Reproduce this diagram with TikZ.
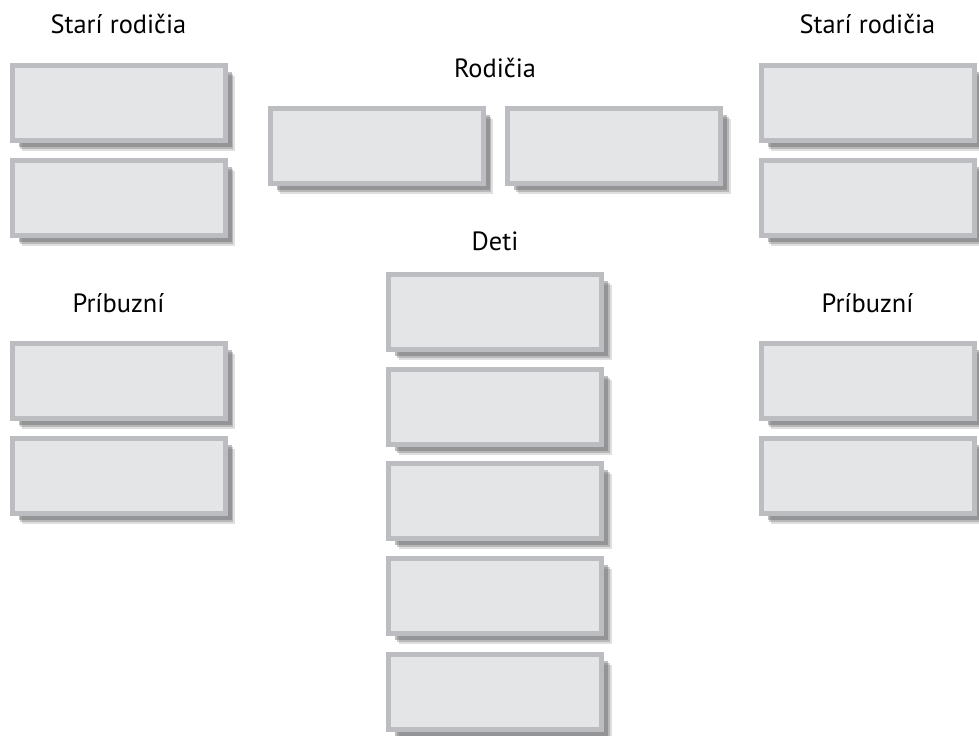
\documentclass[tikz,border=0pt]{standalone}
\usepackage{fontspec}
\setmainfont{PT Sans}
\usetikzlibrary{shadows}

\definecolor{slotline}{HTML}{BCBDC0}
\definecolor{slotfill}{HTML}{E4E5E7}
\definecolor{slotshade}{HTML}{5E5F61}

\tikzset{
  slot/.style={draw=slotline, fill=slotfill, line width=3.75pt,
    minimum width=159.75pt, minimum height=56.25pt, inner sep=0pt,
    drop shadow={shadow xshift=7.5pt, shadow yshift=-7.5pt, fill=slotshade, opacity=.2},
    drop shadow={shadow xshift=6.25pt, shadow yshift=-6.25pt, fill=slotshade, opacity=.3},
    drop shadow={shadow xshift=5pt, shadow yshift=-5pt, fill=slotshade, opacity=.4}},
  heading/.style={anchor=base, inner sep=0pt, font=\fontsize{19.8}{23}\selectfont}
}

\begin{document}
\begin{tikzpicture}[x=0.75pt, y=-0.75pt]
\useasboundingbox (0,0) rectangle (979,736);

\node[heading] (stariL) at (118.5,33) {Starí rodičia};
\node[heading] (stariR) at (867.5,33) {Starí rodičia};
\node[heading] (rodicia) at (495,77) {Rodičia};
\node[heading] (deti) at (495,250) {Deti};
\node[heading] (pribL) at (118.5,312) {Príbuzní};
\node[heading] (pribR) at (867.5,312) {Príbuzní};

% stari rodicia a pribuzni
\foreach \side/\x in {L/118.5, R/867.5}{
  \node[slot] (stari\side1) at (\x,103) {};
  \node[slot] (stari\side2) at (\x,198) {};
  \node[slot] (prib\side1) at (\x,381) {};
  \node[slot] (prib\side2) at (\x,476) {};
}

% rodicia
\node[slot] (rod1) at (376.5,146) {};
\node[slot] (rod2) at (614,146) {};

% deti
\foreach \i/\y in {1/312, 2/407, 3/501, 4/596, 5/692}
  \node[slot] (dieta\i) at (495,\y) {};
\end{tikzpicture}
\end{document}
